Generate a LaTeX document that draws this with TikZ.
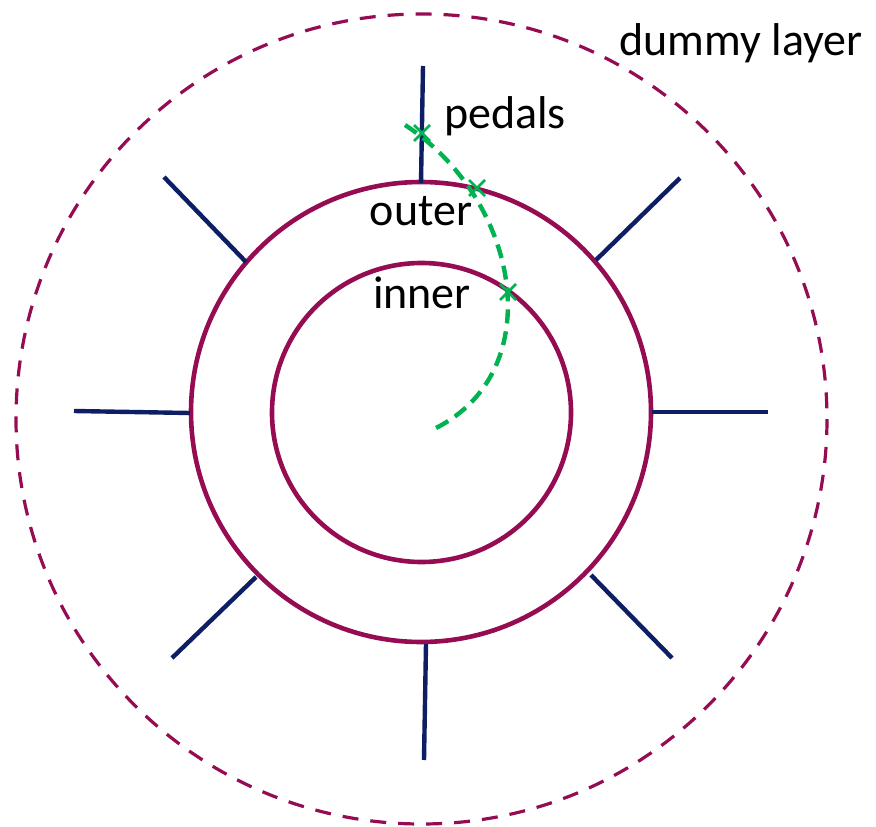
\documentclass[tikz,border=0pt]{standalone}
\usepackage{fontspec}
\setmainfont{Carlito}
\usetikzlibrary{calc}
\definecolor{ringc}{RGB}{150,12,82}
\definecolor{spokec}{RGB}{14,30,100}
\definecolor{pathc}{RGB}{0,178,80}
\tikzset{
  ring/.style={draw=ringc, line width=4.6pt},
  dummyring/.style={draw=ringc, line width=3.2pt, dash pattern=on 16pt off 12pt},
  spoke/.style={draw=spokec, line width=4.4pt},
  walk/.style={draw=pathc, line width=4.4pt, dash pattern=on 14pt off 8pt},
  xmark/.style={draw=pathc, line width=2.6pt},
  lbl/.style={font=\fontsize{46}{46}\selectfont, inner sep=0pt, text=black},
}
\begin{document}
\begin{tikzpicture}[x=1pt,y=-1pt]
\useasboundingbox (0,0) rectangle (876,827);
% rings
\draw[dummyring] (421.5,419) ellipse [x radius=405.5, y radius=405];
\draw[ring] (421,412) circle [radius=230];
\draw[ring] (421.5,412.5) circle [radius=149.5];
% spokes
\draw[spoke] (423,66) -- (421,183);
\draw[spoke] (164,177) -- (246,262);
\draw[spoke] (680,178) -- (596,260);
\draw[spoke] (74,411) -- (190,413);
\draw[spoke] (652,412) -- (768,412);
\draw[spoke] (172,658) -- (256,577);
\draw[spoke] (591,575) -- (672,658);
\draw[spoke] (426,644) -- (424,760);
% walk
\coordinate (ws) at (405,125);
\coordinate (we) at (436,428);
\draw[walk] (ws) .. controls (520,200) and (550,370) .. (we);
\foreach \n/\px/\py in {x1/422/133, x2/477/188, x3/508/292}{
  \coordinate (\n) at (\px,\py);
  \draw[xmark] ($(\n)+(-8,-8)$) -- ($(\n)+(8,8)$) ($(\n)+(-8,8)$) -- ($(\n)+(8,-8)$);
}
% labels
\node[lbl] (dummy) at (741,43) {dummy layer};
\node[lbl] (pedals) at (505,116) {pedals};
\node[lbl] (outer) at (421,211) {outer};
\node[lbl] (inner) at (422,293) {inner};
\end{tikzpicture}
\end{document}
